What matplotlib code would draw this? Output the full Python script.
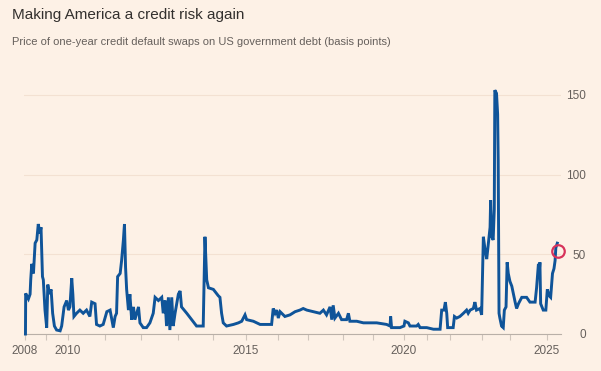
import numpy as np
import matplotlib
matplotlib.use("Agg")
import matplotlib.pyplot as plt

# one-year US CDS, basis points
years = [2008.02, 2008.03, 2008.08, 2008.16, 2008.24, 2008.27, 2008.32, 2008.40, 2008.48, 2008.56,
         2008.63, 2008.71, 2008.76, 2008.83, 2008.87, 2008.95, 2009.03, 2009.08, 2009.15, 2009.23,
         2009.30, 2009.38, 2009.48, 2009.64, 2009.71, 2009.82, 2009.94, 2010.01, 2010.05, 2010.10,
         2010.13, 2010.16, 2010.23, 2010.32, 2010.41, 2010.50, 2010.59, 2010.64, 2010.73, 2010.77,
         2010.86, 2010.95, 2011.05, 2011.14, 2011.19, 2011.23, 2011.28, 2011.32, 2011.35, 2011.42,
         2011.46, 2011.51, 2011.54, 2011.57, 2011.60, 2011.65, 2011.69, 2011.74, 2011.79, 2011.83,
         2011.88, 2011.93, 2011.97, 2012.06, 2012.15, 2012.24, 2012.33, 2012.38, 2012.47, 2012.56,
         2012.60, 2012.65, 2012.69, 2012.74, 2012.78, 2012.83, 2012.87, 2012.92, 2013.01, 2013.06,
         2013.10, 2013.25, 2013.39, 2013.53, 2013.63, 2013.72, 2013.77, 2013.82, 2013.87, 2014.01,
         2014.16, 2014.21, 2014.26, 2014.31, 2014.41, 2014.62, 2014.77, 2014.87, 2014.97, 2015.02,
         2015.23, 2015.44, 2015.65, 2015.80, 2015.85, 2015.91, 2015.96, 2016.01, 2016.07, 2016.23,
         2016.40, 2016.57, 2016.73, 2016.84, 2016.96, 2017.15, 2017.34, 2017.44, 2017.53, 2017.63,
         2017.68, 2017.72, 2017.77, 2017.87, 2017.96, 2018.12, 2018.18, 2018.23, 2018.46, 2018.68,
         2018.90, 2019.12, 2019.44, 2019.55, 2019.57, 2019.60, 2019.87, 2020.00, 2020.04, 2020.19,
         2020.26, 2020.55, 2020.62, 2020.70, 2020.99, 2021.28, 2021.57, 2021.64, 2021.74, 2021.80,
         2021.86, 2021.90, 2022.10, 2022.14, 2022.21, 2022.31, 2022.42, 2022.52, 2022.57, 2022.63,
         2022.73, 2022.78, 2022.83, 2022.94, 2022.99, 2023.05, 2023.11, 2023.17, 2023.23, 2023.29,
         2023.31, 2023.35, 2023.40, 2023.44, 2023.46, 2023.52, 2023.56, 2023.58, 2023.61, 2023.64,
         2023.70, 2023.76, 2023.80, 2023.86, 2023.90, 2023.94, 2024.00, 2024.05, 2024.14, 2024.18,
         2024.23, 2024.32, 2024.45, 2024.54, 2024.68, 2024.72, 2024.77, 2024.79, 2024.81, 2024.83,
         2024.90, 2024.97, 2025.01, 2025.06, 2025.10, 2025.15, 2025.19, 2025.22, 2025.24, 2025.28]
cds = [0, 25.5, 24, 22, 25, 34, 44, 38, 57, 59,
       69, 63, 67, 36, 34, 15, 4, 31, 25, 28,
       13, 5, 2.5, 2, 5, 17, 21, 15, 17, 35,
       25, 11, 13, 15, 13, 15, 11, 20, 19, 6,
       5, 6, 14, 15, 9, 4, 11, 13, 36, 38,
       46, 59, 69, 42, 28, 15, 25, 9, 17, 9,
       13, 17, 7, 4, 4, 7, 13, 23, 21, 23,
       13, 21, 5, 23, 2.5, 23, 5, 13, 25, 27,
       17, 13, 9, 5, 5, 5, 61, 34, 29, 28,
       24, 23, 13, 7, 5, 6, 7, 8, 12, 9,
       8, 6, 6, 6, 16, 13, 15, 10, 14, 11,
       12, 14, 15, 16, 15, 14, 13, 15, 12, 17,
       9, 18, 10, 13, 9, 9, 13, 8, 8, 7,
       7, 7, 6, 5, 11, 4, 4, 5, 8, 7,
       5, 5, 6, 4, 4, 3, 3, 15, 15, 20,
       13, 4, 4, 11, 10, 11, 13, 15, 13, 15,
       16, 20, 15, 16, 12, 61, 53, 47, 57, 67,
       84, 61, 59, 78, 153, 151, 138, 109, 13, 10,
       5, 4, 15, 17, 45, 38, 33, 30, 20, 16,
       19, 23, 23, 20, 20, 29, 44, 38, 45, 19,
       15, 15, 28, 24, 23, 38, 41, 46, 54, 57]
latest_year = 2025.31
latest_value = 52

tick_years = [2008, 2010, 2015, 2020, 2025]
y_ticks = [0, 50, 100, 150]

# the chart's time axis is not evenly spaced: knots of year -> axis position
knot_years = np.arange(2007, 2027)
knot_pos = np.array([4, 25, 46, 68, 105, 141, 178, 213, 246, 278, 308, 343,
                     373, 404, 427, 450, 482, 510, 547, 584], dtype=float)

def fwd(x):
    return np.interp(x, knot_years, knot_pos)

def inv(p):
    return np.interp(p, knot_pos, knot_years)

bg = "#fdf1e6"
blue = "#0f5499"
grey = "#66605c"

plt.rcParams['font.family'] = ['Liberation Sans', 'DejaVu Sans']

fig = plt.figure(figsize=(6.01, 3.71), dpi=100, facecolor=bg)
ax = fig.add_axes([24/601, 1 - 334/371, (561 - 24)/601, 255/371])
ax.set_facecolor(bg)

ax.set_xscale('function', functions=(fwd, inv))
ax.set_xlim(2007.95, 2025.38)
ax.set_ylim(0, 160)

ax.plot(years, cds, color=blue, lw=2.1, solid_joinstyle='miter', clip_on=False, zorder=3)
ax.plot([latest_year], [latest_value], 'o', ms=9, mfc='none', mec='#d7335b', mew=1.6,
        clip_on=False, zorder=4)

for s in ['top', 'left', 'right']:
    ax.spines[s].set_visible(False)
ax.spines['bottom'].set_color('#b9b0a8')
ax.spines['bottom'].set_linewidth(0.8)

ax.set_yticks(y_ticks)
ax.yaxis.tick_right()
ax.tick_params(axis='y', length=0, pad=18, labelsize=8.5, labelcolor=grey)
for lab in ax.get_yticklabels():
    lab.set_horizontalalignment('right')
ax.grid(axis='y', color='#f3e1d2', lw=0.8)
ax.set_axisbelow(True)

ax.set_xticks(tick_years)
ax.set_xticklabels([str(y) for y in tick_years])
ax.set_xticks(list(range(2009, 2025)), minor=True)
ax.tick_params(axis='x', which='both', length=4, color='#cfc5bc', width=0.8,
               labelsize=8.5, labelcolor=grey, pad=4)

fig.text(12/601, 1 - 15/371, "Making America a credit risk again", fontsize=11,
         color='#33302e', va='center', ha='left')
fig.text(12/601, 1 - 42/371,
         "Price of one-year credit default swaps on US government debt (basis points)",
         fontsize=8.0, color=grey, va='center', ha='left')

fig.savefig("out.png", dpi=100, facecolor=bg)
